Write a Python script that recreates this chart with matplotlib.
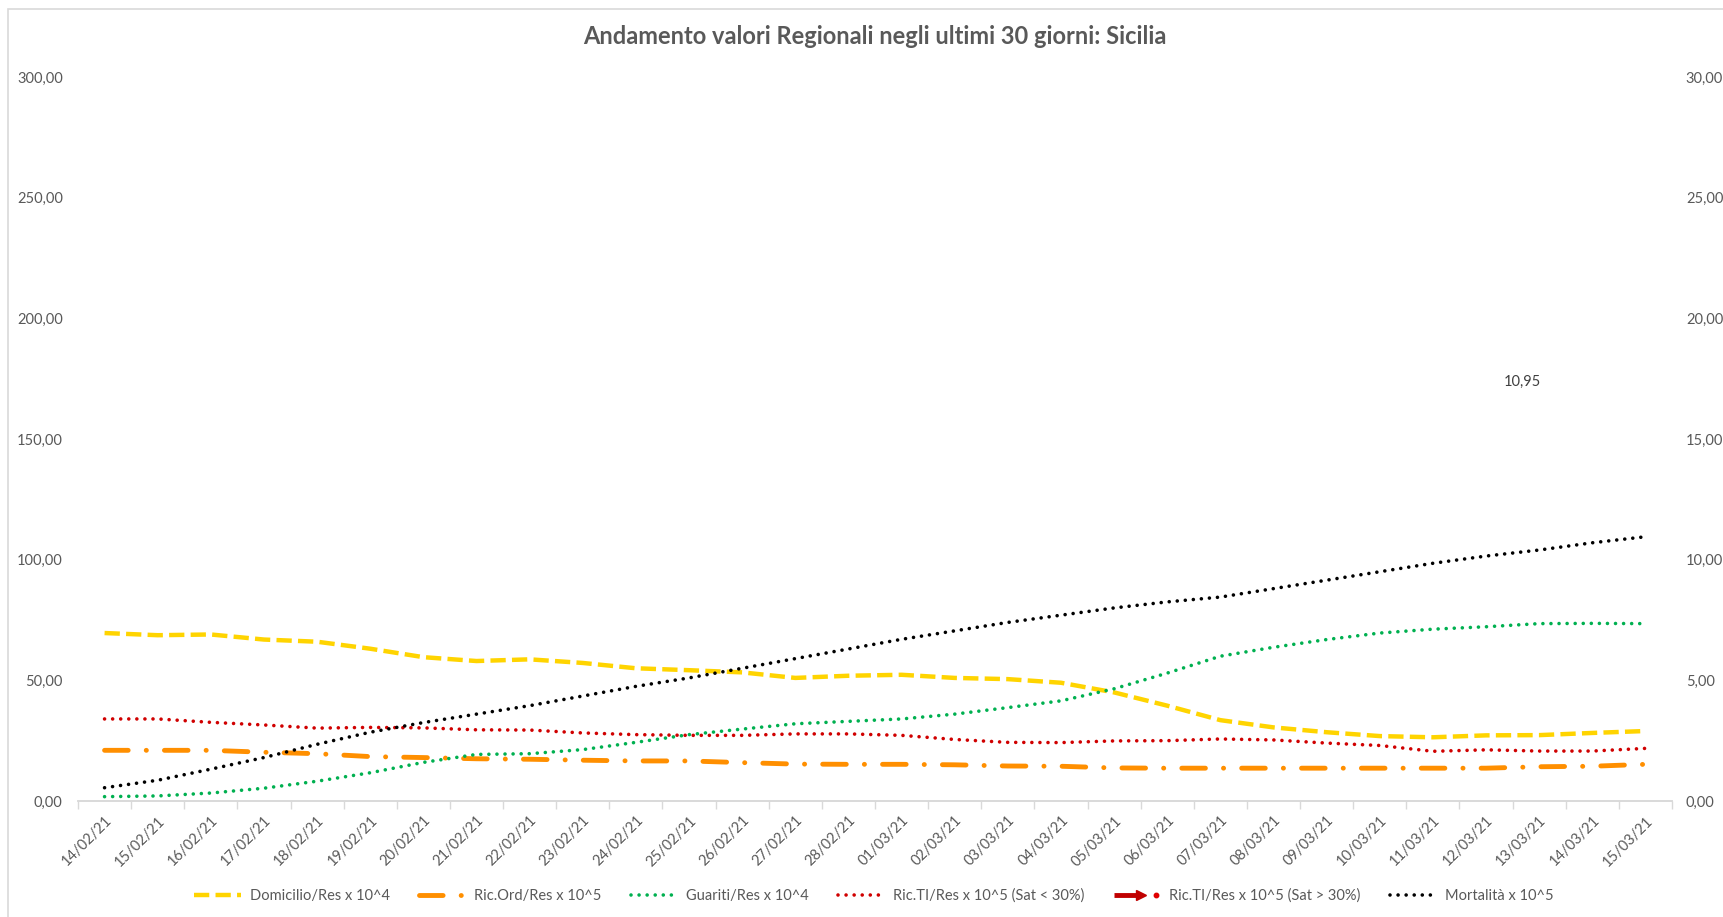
import numpy as np
import matplotlib
matplotlib.use("Agg")
import matplotlib.pyplot as plt
import matplotlib.transforms as mtransforms
from matplotlib.lines import Line2D
from matplotlib.legend_handler import HandlerBase
from matplotlib.patches import Rectangle
from matplotlib.ticker import FuncFormatter, MultipleLocator, FixedLocator

plt.rcParams['font.family'] = ['Lato', 'DejaVu Sans']
plt.rcParams['lines.scale_dashes'] = False

dates = ["14/02/21", "15/02/21", "16/02/21", "17/02/21", "18/02/21", "19/02/21",
         "20/02/21", "21/02/21", "22/02/21", "23/02/21", "24/02/21", "25/02/21",
         "26/02/21", "27/02/21", "28/02/21", "01/03/21", "02/03/21", "03/03/21",
         "04/03/21", "05/03/21", "06/03/21", "07/03/21", "08/03/21", "09/03/21",
         "10/03/21", "11/03/21", "12/03/21", "13/03/21", "14/03/21", "15/03/21"]

domicilio = [69.6, 68.7, 69.0, 66.9, 66.0, 63.1, 59.6, 58.0, 58.7, 57.2,
             55.0, 54.2, 53.3, 51.0, 51.9, 52.3, 51.0, 50.5, 49.0, 45.0,
             39.5, 33.5, 30.5, 28.5, 26.9, 26.4, 27.2, 27.3, 28.2, 29.0]
ric_ord = [21.0, 21.0, 21.0, 20.2, 19.6, 18.4, 18.0, 17.5, 17.3, 16.9,
           16.6, 16.6, 15.9, 15.3, 15.2, 15.2, 15.0, 14.5, 14.4, 13.7,
           13.6, 13.6, 13.6, 13.6, 13.6, 13.6, 13.6, 14.2, 14.4, 15.2]
guariti = [1.8, 2.1, 3.3, 5.3, 8.2, 11.7, 16.0, 19.3, 19.6, 21.3,
           24.3, 27.5, 29.8, 32.0, 33.0, 34.0, 36.0, 38.7, 41.5, 46.5,
           53.0, 60.0, 63.7, 66.9, 69.6, 71.2, 72.2, 73.5, 73.6, 73.5]
ric_ti_low = [34.0, 34.0, 32.6, 31.5, 30.2, 30.5, 30.3, 29.5, 29.4, 28.2,
              27.5, 27.2, 27.2, 27.8, 27.8, 27.2, 25.5, 24.3, 24.2, 24.9,
              25.0, 25.7, 25.3, 24.0, 23.0, 20.6, 21.2, 20.7, 20.7, 21.8]
ric_ti_high = [None] * 30
mortalita = [0.55, 0.86, 1.32, 1.80, 2.35, 2.85, 3.25, 3.60, 3.95, 4.35,
             4.75, 5.10, 5.50, 5.90, 6.30, 6.70, 7.05, 7.40, 7.70, 8.00,
             8.25, 8.45, 8.80, 9.15, 9.50, 9.85, 10.15, 10.40, 10.70, 10.95]

labels = ["Domicilio/Res x 10^4", "Ric.Ord/Res x 10^5", "Guariti/Res x 10^4",
          "Ric.TI/Res x 10^5 (Sat < 30%)", "Ric.TI/Res x 10^5 (Sat > 30%)",
          "Mortalità x 10^5"]
title = "Andamento valori Regionali negli ultimi 30 giorni: Sicilia"
last_label = "10,95"

TXT = '#595959'
W, H = 1723, 917
fig = plt.figure(figsize=(W / 100, H / 100), dpi=100)
fig.patches.append(Rectangle((8 / W, -0.01), 1.02, (H - 9) / H + 0.01, transform=fig.transFigure,
                             fill=False, edgecolor='#D9D9D9', lw=1.2))

AX_L, AX_R, AX_T, AX_B = 78, 1672, 77, 801
ax = fig.add_axes([AX_L / W, (H - AX_B) / H, (AX_R - AX_L) / W, (AX_B - AX_T) / H])
ax2 = ax.twinx()

x = np.arange(len(dates))
to_arr = lambda v: np.array([np.nan if a is None else a for a in v], dtype=float)

DOT = dict(lw=2.6, dashes=(0.01, 5.8), dash_capstyle='round')
l1, = ax.plot(x, domicilio, color='#FFD400', lw=3.2, dashes=(11, 4.5), dash_capstyle='butt')
l2, = ax.plot(x, ric_ord, color='#FF8F00', lw=3.5, dashes=(17, 13, 0.1, 13), dash_capstyle='round')
l3, = ax.plot(x, guariti, color='#00B050', **DOT)
l4, = ax.plot(x, ric_ti_low, color='#D00000', **DOT)
l5, = ax.plot(x, to_arr(ric_ti_high), color='#C00000', lw=3.5)
l6, = ax2.plot(x, mortalita, color='black', **DOT)

ax2.annotate(last_label, xy=(x[-1], mortalita[-1]), xytext=(-123, 155), textcoords='offset pixels',
             ha='center', va='center', fontsize=10.5, color='#404040')

ax.set_xlim(-0.5, len(dates) - 0.5)
ax.set_ylim(0, 300)
ax2.set_ylim(0, 30)
ax.yaxis.set_major_locator(MultipleLocator(50))
ax2.yaxis.set_major_locator(MultipleLocator(5))
fmt = FuncFormatter(lambda v, p: f"{v:.2f}".replace('.', ','))
ax.yaxis.set_major_formatter(fmt)
ax2.yaxis.set_major_formatter(fmt)

ax.set_xticks(x)
ax.set_xticklabels(dates, rotation=45, ha='right', va='top', rotation_mode='anchor')
shift = mtransforms.ScaledTranslation(7 / 100, 0, fig.dpi_scale_trans)
for t in ax.get_xticklabels():
    t.set_transform(t.get_transform() + shift)
ax.xaxis.set_minor_locator(FixedLocator(np.arange(-0.5, len(dates), 1.0)))
ax.tick_params(axis='x', which='major', length=0, pad=9, labelsize=10.5, labelcolor=TXT)
ax.tick_params(axis='x', which='minor', length=6, color='#D9D9D9', width=1)
ax.tick_params(axis='y', length=0, pad=11, labelsize=10.5, labelcolor=TXT)
ax2.tick_params(axis='y', length=0, pad=10, labelsize=10.5, labelcolor=TXT)

for a in (ax, ax2):
    for s in ('top', 'left', 'right'):
        a.spines[s].set_visible(False)
    a.spines['bottom'].set_color('#D9D9D9')
    a.spines['bottom'].set_linewidth(1.2)

fig.text((AX_L + AX_R) / 2 / W, (H - 37) / H, title, ha='center', va='center',
         fontsize=17, fontweight='bold', color=TXT)


class ArrowHandler(HandlerBase):
    def create_artists(self, legend, orig_handle, xdescent, ydescent, width, height, fontsize, trans):
        y = height / 2 - ydescent
        c = orig_handle.get_color()
        line = Line2D([-xdescent, -xdescent + width * 0.55], [y, y], color=c, lw=3.5, solid_capstyle='butt')
        head = Line2D([-xdescent + width * 0.58], [y], marker='>', ms=7, color=c, lw=0)
        dot = Line2D([-xdescent + width * 0.9], [y], marker='o', ms=3.2, color='#E00000', lw=0)
        for art in (line, head, dot):
            art.set_transform(trans)
        return [line, head, dot]


leg = fig.legend([l1, l2, l3, l4, l5, l6], labels, loc='center', bbox_to_anchor=(874 / W, (H - 896) / H),
                 ncol=6, frameon=False, fontsize=10.5, handlelength=3.2, columnspacing=2.0,
                 handletextpad=0.6, labelcolor=TXT, handler_map={l5: ArrowHandler()})

fig.savefig('out.png', dpi=100)
